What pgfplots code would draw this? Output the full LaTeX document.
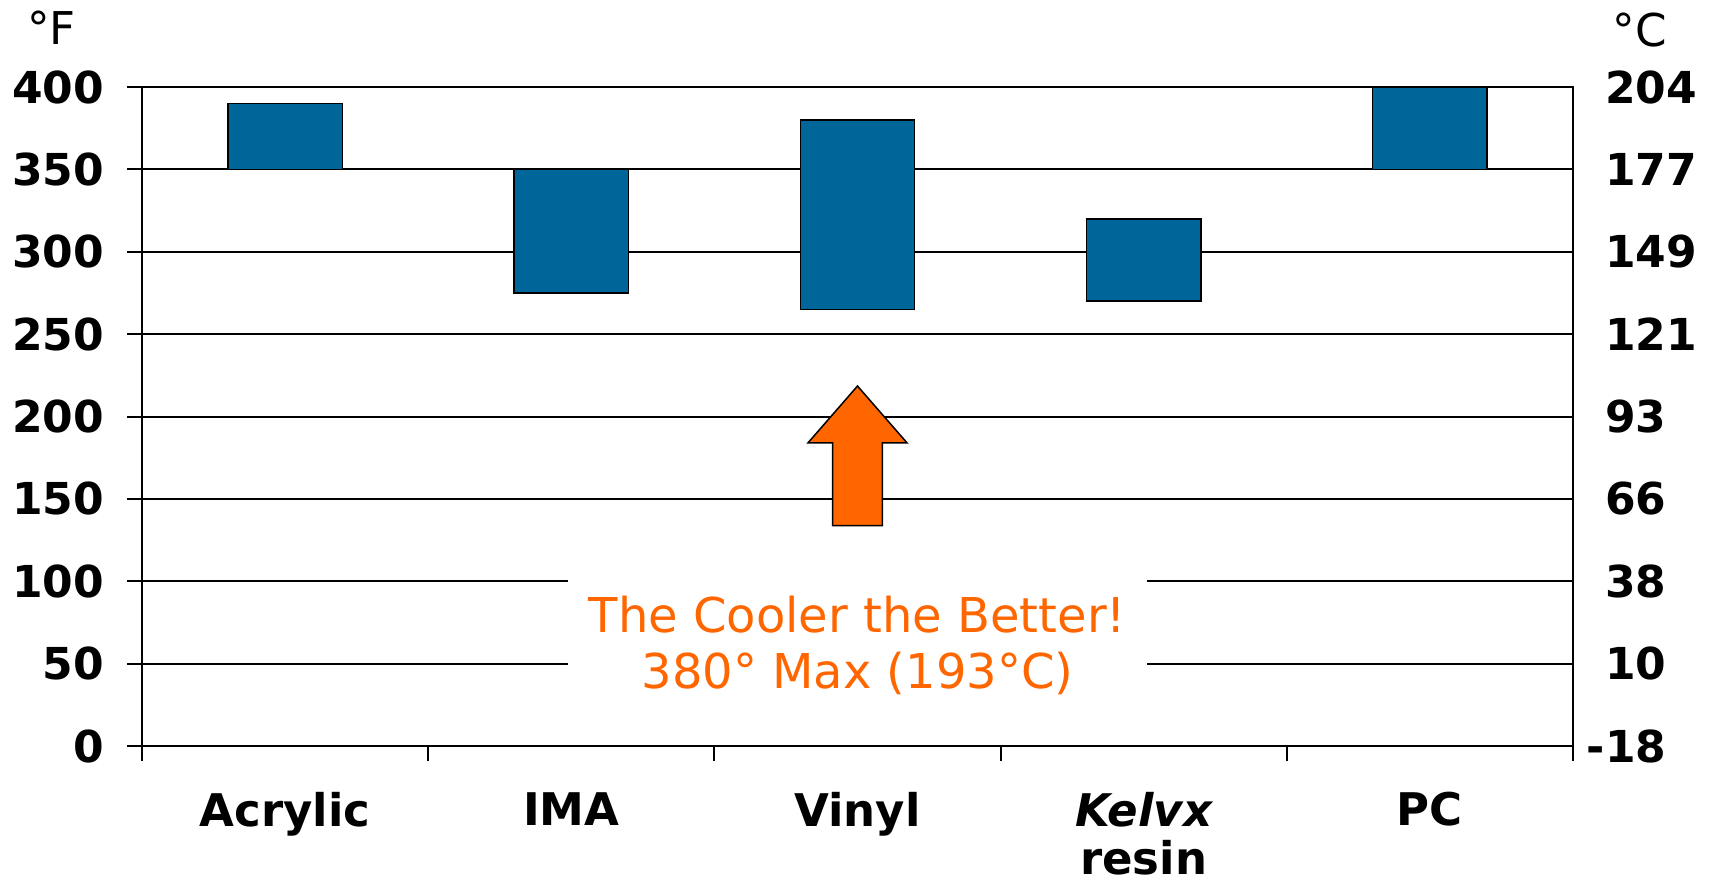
\documentclass[border=0pt]{standalone}
\usepackage{pgfplots}
\pgfplotsset{compat=1.18}
\usepackage{fontspec}
\setmainfont{DejaVu Sans}
\definecolor{barblue}{RGB}{0,102,153}
\definecolor{arroworange}{RGB}{255,102,0}
\pgfplotstableread{
x base range
0 350 40
1 275 75
2 265 115
3 270 50
4 350 50
}\ranges
\begin{document}
\begin{tikzpicture}
\begin{axis}[
  scale only axis,
  width=715.5pt, height=329.5pt,
  xmin=-0.5, xmax=4.5, ymin=0, ymax=400,
  axis line style={line width=1pt, black},
  ytick={0,50,...,400},
  yticklabels={0,50,100,150,200,250,300,350,400},
  ymajorgrids,
  grid style={line width=1pt, black},
  ytick pos=left,
  xtick pos=bottom,
  tick align=outside,
  major tick length=7.5pt,
  tick style={line width=1pt, black},
  yticklabel style={font=\fontsize{22}{25}\selectfont\bfseries, anchor=east, xshift=-8pt},
  xtick={-0.5,0.5,...,4.5},
  xticklabels={},
  extra x ticks={0,1,2,3,4},
  extra x tick labels={Acrylic,IMA,Vinyl,{\itshape Kelvx}\\resin,PC},
  extra x tick style={major tick length=0pt, grid=none,
    xticklabel style={font=\fontsize{22.5}{24}\selectfont\bfseries, align=center, anchor=north, yshift=-22pt, inner ysep=1pt}},
  ybar stacked,
  bar width=0.4,
  clip=false,
]
\addplot[draw=none, fill=none, forget plot] table[x=x, y=base] {\ranges};
\addplot[fill=barblue, draw=black, line width=0.75pt] table[x=x, y=range] {\ranges};
\draw[fill=arroworange, draw=black, line width=0.75pt]
  (axis cs:1.913,133.8) -- (axis cs:2.087,133.8) -- (axis cs:2.087,184)
  -- (axis cs:2.173,184) -- (axis cs:2,218.5) -- (axis cs:1.827,184)
  -- (axis cs:1.913,184) -- cycle;
\node[fill=white, align=center, text=arroworange, minimum width=289.5pt,
  inner ysep=10pt, font=\fontsize{24}{28}\selectfont]
  at (axis cs:2,61.3) {The Cooler the Better!\\380° Max (193°C)};
\end{axis}
\begin{axis}[
  scale only axis,
  width=715.5pt, height=329.5pt,
  xmin=-0.5, xmax=4.5, ymin=0, ymax=400,
  axis x line=none,
  axis y line*=right,
  axis line style={line width=1pt, black},
  ytick={0,50,...,400},
  yticklabels={\llap{-}18,10,38,66,93,121,149,177,204},
  major tick length=0pt,
  yticklabel style={font=\fontsize{22}{25}\selectfont\bfseries, anchor=west, xshift=12.5pt},
]
\end{axis}
\node[anchor=base west, inner sep=0, font=\fontsize{22.6}{26}\selectfont] at (-57.5pt,350.5pt) {°F};
\node[anchor=base east, inner sep=0, font=\fontsize{22.6}{26}\selectfont] at (762.5pt,349.5pt) {°C};
\pgfresetboundingbox
\path[use as bounding box] (-71pt,-69.5pt) rectangle (789pt,373pt);
\end{tikzpicture}
\end{document}
